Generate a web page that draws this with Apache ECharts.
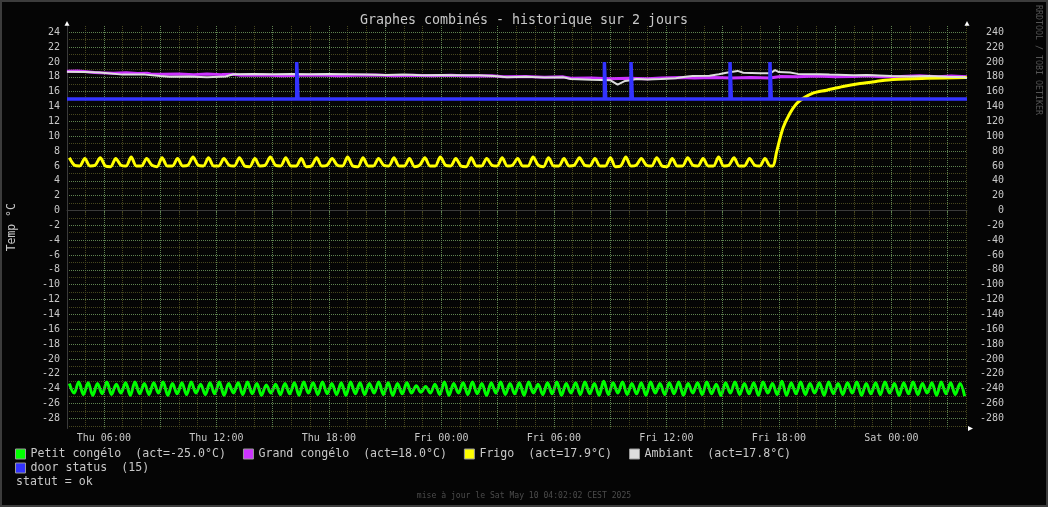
<!DOCTYPE html>
<html><head><meta charset="utf-8">
<script src="https://cdn.jsdelivr.net/npm/echarts@6/dist/echarts.min.js"></script>
<style>html,body{margin:0;padding:0;background:#050505;}#c{width:1048px;height:507px;}</style>
</head><body><div id="c"></div>
<script>
// ---- time range (hours since Thu 00:00) ----
const startHour = 4.0339;   // Thu 04:02:02
const endHour = 52.0339;    // Sat 04:02:02

// ---- tick labels ----
const xLabelHours = [6, 12, 18, 24, 30, 36, 42, 48];
const xTickLabels = ['Thu 06:00', 'Thu 12:00', 'Thu 18:00', 'Fri 00:00', 'Fri 06:00', 'Fri 12:00', 'Fri 18:00', 'Sat 00:00'];
const yTickLabels = [-28, -26, -24, -22, -20, -18, -16, -14, -12, -10, -8, -6, -4, -2, 0, 2, 4, 6, 8, 10, 12, 14, 16, 18, 20, 22, 24];
const yRightLabels = [-280, -260, -240, -220, -200, -180, -160, -140, -120, -100, -80, -60, -40, -20, 0, 20, 40, 60, 80, 100, 120, 140, 160, 180, 200, 220, 240];

// ---- Petit congélo : samples every 0.25 h from 4.16 h ----
const petitStart = 4.16, petitStep = 0.25;
const petitValues = [
-23.3,-24.6,-23.1,-24.8,-23.2,-24.9,-23.3,-24.7,-23.1,-24.8,
-23.4,-24.6,-23.2,-24.9,-23.1,-24.7,-23.3,-24.8,-23.2,-24.6,
-23.1,-24.9,-23.3,-24.7,-23.2,-24.8,-23.1,-24.6,-23.4,-24.8,
-23.2,-24.7,-23.1,-24.9,-23.3,-24.6,-23.2,-24.8,-23.1,-24.7,
-23.3,-24.9,-23.5,-24.6,-23.4,-24.8,-23.3,-24.7,-23.2,-24.9,
-23.1,-24.6,-23.2,-24.8,-23.1,-24.7,-23.3,-24.8,-23.2,-24.9,
-23.1,-24.7,-23.2,-24.8,-23.3,-24.6,-23.1,-24.8,-23.2,-24.9,
-23.3,-24.7,-23.2,-24.6,-23.6,-24.5,-23.7,-24.6,-23.4,-24.8,
-23.1,-24.9,-23.3,-24.6,-23.2,-24.8,-23.1,-24.7,-23.3,-24.9,
-23.2,-24.6,-23.1,-24.8,-23.3,-24.7,-23.2,-24.9,-23.1,-24.6,
-23.4,-24.8,-23.2,-24.7,-23.1,-24.9,-23.3,-24.6,-23.2,-24.8,
-23.1,-24.7,-23.3,-24.9,-23.0,-24.8,-23.2,-24.6,-23.1,-24.8,
-23.3,-24.7,-23.2,-24.9,-23.1,-24.6,-23.3,-24.8,-23.2,-24.7,
-23.1,-24.9,-23.3,-24.6,-23.2,-24.8,-23.1,-24.7,-23.4,-24.9,
-23.2,-24.6,-23.1,-24.8,-23.3,-24.7,-23.2,-24.9,-23.1,-24.6,
-23.3,-24.8,-23.0,-24.9,-23.2,-24.7,-23.1,-24.8,-23.3,-24.6,
-23.2,-24.9,-23.1,-24.7,-23.3,-24.8,-23.2,-24.6,-23.1,-24.9,
-23.3,-24.7,-23.2,-24.8,-23.1,-24.6,-23.3,-24.9,-23.2,-24.7,
-23.1,-24.8,-23.3,-24.6,-23.2,-24.9,-23.1,-24.7,-23.2,-24.8,
-23.3,-25.0
];

// ---- Frigo : oscillation samples every 0.2748 h from 4.16 h, then the rise ----
const frigoStart = 4.16, frigoStep = 0.2748;
const frigoWave = [
7.1,6.1,6.0, 7.0,6.0,6.1, 7.1,6.0,5.9, 7.0,6.1,6.0, 7.2,6.0,6.0,
7.0,6.1,5.9, 7.1,6.0,6.0, 7.0,6.0,6.1, 7.2,6.1,6.0, 7.1,6.0,6.0,
7.0,6.1,6.0, 7.1,6.0,5.9, 7.0,6.0,6.1, 7.2,6.1,6.0, 7.1,6.0,6.0,
7.0,5.9,6.0, 7.1,6.0,6.1, 7.0,6.1,6.0, 7.2,6.0,5.9, 7.1,6.0,6.0,
7.0,6.1,6.0, 7.1,6.0,6.0, 7.0,5.9,6.1, 7.1,6.0,6.0, 7.2,6.1,6.0,
7.0,6.0,5.9, 7.1,6.0,6.0, 7.0,6.1,6.0, 7.1,6.0,6.1, 7.0,6.0,6.0,
7.2,6.1,5.9, 7.1,6.0,6.0, 7.0,6.0,6.1, 7.1,6.1,6.0, 7.0,6.0,6.0,
7.1,5.9,6.0, 7.2,6.0,6.1, 7.0,6.1,6.0, 7.1,6.0,5.9, 7.0,6.0,6.0,
7.1,6.1,6.0, 7.0,6.0,6.0, 7.2,6.0,6.1, 7.1,6.0,6.0, 7.0,6.1,6.0,
7.0,6.0
];
const frigoRise = [[41.69,6.0],[41.88,7.9],[42.22,11.1],[42.59,13.1],[42.95,14.4],[43.29,15.1],[43.82,15.8],[44.55,16.2],[45.42,16.7],[46.33,17.1],[47.23,17.4],[48.09,17.65],[49.9,17.8],[52.03,17.9]];

// ---- Grand congélo [hour, °C] ----
const grandPoints = [[4.03,18.75],[4.6,18.8],[5.1,18.7],[5.5,18.6],[5.8,18.55],[6.5,18.5],[7.2,18.55],[7.8,18.45],[8.3,18.5],[8.5,18.4],[9.2,18.35],[10.0,18.4],[10.8,18.3],[11.5,18.4],[12.3,18.3],[12.9,18.35],[13.3,18.2],[14.5,18.25],[15.5,18.15],[16.5,18.2],[17.5,18.25],[18.5,18.15],[19.5,18.2],[20.5,18.25],[21.5,18.15],[22.5,18.2],[23.5,18.15],[24.5,18.2],[25.5,18.1],[26.7,18.15],[27.3,18.0],[28.5,18.05],[29.5,17.95],[30.5,18.0],[30.9,17.8],[32.0,17.85],[33.0,17.75],[34.0,17.8],[35.0,17.75],[35.7,17.85],[36.7,17.9],[37.5,17.85],[38.5,17.9],[39.5,17.85],[40.5,17.9],[41.5,17.85],[42.1,18.05],[43.0,18.0],[44.0,18.1],[45.0,18.0],[46.0,18.05],[46.7,18.15],[47.5,18.0],[48.5,18.05],[49.5,18.15],[50.5,18.0],[51.2,18.1],[52.03,18.0]];

// ---- Ambiant [hour, °C] ----
const ambiantPoints = [[4.03,18.7],[5.0,18.65],[5.8,18.6],[5.9,18.35],[7.0,18.3],[8.2,18.3],[8.3,18.05],[9.0,18.1],[9.5,18.0],[10.5,18.05],[11.5,17.95],[12.5,18.05],[12.9,18.35],[14.0,18.4],[15.0,18.35],[16.0,18.4],[17.0,18.35],[18.0,18.4],[19.1,18.35],[20.0,18.3],[21.0,18.25],[22.0,18.3],[23.0,18.2],[24.0,18.25],[25.0,18.2],[26.0,18.2],[26.8,18.1],[27.5,17.95],[28.5,18.0],[29.5,17.9],[30.5,17.95],[30.9,17.7],[32.0,17.6],[33.0,17.55],[33.4,16.95],[33.8,17.45],[34.0,17.5],[34.4,17.7],[35.0,17.65],[35.7,17.7],[36.5,17.8],[37.0,18.0],[37.4,18.1],[38.3,18.15],[38.8,18.35],[39.2,18.55],[39.8,18.8],[40.1,18.55],[41.0,18.5],[41.55,18.5],[41.8,18.9],[42.0,18.65],[42.6,18.6],[43.0,18.4],[44.2,18.35],[44.7,18.3],[46.0,18.2],[46.7,18.25],[48.0,18.1],[49.0,18.05],[50.0,18.1],[51.0,18.0],[51.9,17.95],[52.03,17.8]];

// ---- door status ----
const doorClosed = 15, doorOpen = 20;
const doorEvents = [16.32, 32.73, 34.15, 39.43, 41.56];

// ---------------------------------------------------------------
const FONT = 'DejaVu Sans Mono';
const TXT = '#c8c8c8';
const MAJOR = '#5e8250', MINOR = '#46461e';
const GL = 67, GT = 26, GR = 967, GB = 428.5, W = 1048, H = 507;
const Y_MIN = -29.37, Y_MAX = 24.85;

const petitData = petitValues.map((v, i) => [petitStart + i * petitStep, v]);
const frigoData = frigoWave.map((v, i) => [frigoStart + i * frigoStep, v]).concat(frigoRise);
const doorHalf = 0.035;
const doorData = [[startHour, doorClosed]];
doorEvents.forEach(t => {
  doorData.push([t - doorHalf, doorClosed], [t - doorHalf, doorOpen], [t + doorHalf, doorOpen], [t + doorHalf, doorClosed]);
});
doorData.push([endHour, doorClosed]);

const lastOf = arr => { const l = arr[arr.length - 1]; return Array.isArray(l) ? l[1] : l; };
const legendText = {
  'Petit congélo': 'Petit congélo  (act=' + lastOf(petitValues).toFixed(1) + '°C)',
  'Grand congélo': 'Grand congélo  (act=' + lastOf(grandPoints).toFixed(1) + '°C)',
  'Frigo': 'Frigo  (act=' + lastOf(frigoData).toFixed(1) + '°C)',
  'Ambiant': 'Ambiant  (act=' + lastOf(ambiantPoints).toFixed(1) + '°C)',
  'door status': 'door status  (' + lastOf(doorData) + ')'
};

const majorX = [], minorX = [];
for (let h = Math.ceil(startHour); h <= Math.floor(endHour); h++) (h % 3 === 0 ? majorX : minorX).push(h);
const minorY = [];
for (let v = -29; v <= 24; v += 2) minorY.push(v);

const gridDash = [1, 1];

const chart = echarts.init(document.getElementById('c'), null, {renderer: 'canvas'});
const lineBase = {type: 'line', showSymbol: false, symbol: 'none', silent: true, animation: false, xAxisIndex: 0, yAxisIndex: 0};

chart.setOption({
  backgroundColor: '#050505',
  animation: false,
  textStyle: {fontFamily: FONT},
  title: {
    text: 'Graphes combinés - historique sur 2 jours', left: 'center', top: 9,
    textStyle: {color: TXT, fontFamily: FONT, fontSize: 13.3, fontWeight: 'normal'}
  },
  grid: {left: GL, top: GT, right: W - GR, bottom: H - GB, containLabel: false, outerBoundsMode: 'none'},
  xAxis: [
    {
      type: 'value', min: startHour, max: endHour, position: 'bottom',
      axisLine: {show: true, lineStyle: {color: '#3a3a3a', width: 1}},
      axisTick: {show: true, customValues: majorX, length: 3, lineStyle: {color: MAJOR}},
      axisLabel: {
        customValues: xLabelHours, color: TXT, fontFamily: FONT, fontSize: 10, margin: 5,
        formatter: v => xTickLabels[xLabelHours.indexOf(Math.round(v))]
      },
      splitLine: {show: true, lineStyle: {color: MAJOR, width: 1, type: gridDash}},
      z: 3
    },
    {
      type: 'value', min: startHour, max: endHour, position: 'bottom',
      axisLine: {show: false},
      axisTick: {show: true, customValues: minorX, length: 3, lineStyle: {color: MINOR}},
      axisLabel: {show: false},
      splitLine: {show: true, lineStyle: {color: MINOR, width: 1, type: gridDash}},
      z: 2
    }
  ],
  yAxis: [
    {
      type: 'value', min: Y_MIN, max: Y_MAX, position: 'left',
      name: 'Temp °C', nameLocation: 'middle', nameRotate: 90, nameGap: 49,
      nameTextStyle: {color: TXT, fontFamily: FONT, fontSize: 11.4},
      axisLine: {show: true, lineStyle: {color: '#3a3a3a', width: 1}},
      axisTick: {show: false, customValues: yTickLabels},
      axisLabel: {customValues: yTickLabels, color: TXT, fontFamily: FONT, fontSize: 10, margin: 7},
      splitLine: {show: true, lineStyle: {color: MAJOR, width: 1, type: gridDash}},
      z: 3
    },
    {
      type: 'value', min: Y_MIN, max: Y_MAX, position: 'left',
      axisLine: {show: false},
      axisTick: {show: false, customValues: minorY},
      axisLabel: {show: false},
      splitLine: {show: true, lineStyle: {color: MINOR, width: 1, type: gridDash}},
      z: 2
    },
    {
      type: 'value', min: Y_MIN * 10, max: Y_MAX * 10, position: 'right',
      axisLine: {show: false},
      axisTick: {show: false, customValues: yRightLabels},
      axisLabel: {customValues: yRightLabels, color: TXT, fontFamily: FONT, fontSize: 10, margin: 37, align: 'right'},
      splitLine: {show: false}
    }
  ],
  legend: [
    {
      data: ['Petit congélo', 'Grand congélo', 'Frigo', 'Ambiant'],
      left: 15, top: 448, padding: 0, itemGap: 17, itemWidth: 10, itemHeight: 10, icon: 'rect',
      selectedMode: false,
      itemStyle: {borderColor: '#9a9a9a', borderWidth: 1},
      textStyle: {color: TXT, fontFamily: FONT, fontSize: 11.6},
      formatter: n => legendText[n]
    },
    {
      data: ['door status'],
      left: 15, top: 462, padding: 0, itemGap: 17, itemWidth: 10, itemHeight: 10, icon: 'rect',
      selectedMode: false,
      itemStyle: {borderColor: '#9a9a9a', borderWidth: 1},
      textStyle: {color: TXT, fontFamily: FONT, fontSize: 11.6},
      formatter: n => legendText[n]
    }
  ],
  series: [
    Object.assign({}, lineBase, {name: 'Petit congélo', data: petitData, smooth: 0.35, color: '#00ff00',
      lineStyle: {width: 3, color: '#00ff00'}, itemStyle: {color: '#00ff00'}, z: 2}),
    Object.assign({}, lineBase, {name: 'Grand congélo', data: grandPoints, color: '#cc33ff',
      lineStyle: {width: 3, color: '#cc33ff'}, itemStyle: {color: '#cc33ff'}, z: 3}),
    Object.assign({}, lineBase, {name: 'Frigo', data: frigoData, smooth: 0.3, color: '#ffff00',
      lineStyle: {width: 3, color: '#ffff00'}, itemStyle: {color: '#ffff00'}, z: 4}),
    Object.assign({}, lineBase, {name: 'Ambiant', data: ambiantPoints, color: '#dddddd',
      lineStyle: {width: 2, color: '#dddddd'}, itemStyle: {color: '#dddddd'}, z: 5}),
    Object.assign({}, lineBase, {name: 'door status', data: doorData, color: '#3333ff',
      lineStyle: {width: 3.5, color: '#3333ff', cap: 'butt', join: 'miter'}, itemStyle: {color: '#3333ff'}, z: 6})
  ],
  graphic: [
    {type: 'rect', shape: {x: 1, y: 1, width: W - 2, height: H - 2}, style: {fill: 'none', stroke: '#3c3c3c', lineWidth: 2}, silent: true, z: 100},
    {type: 'polygon', shape: {points: [[GL - 2.5, GT - 0.3], [GL + 2.5, GT - 0.3], [GL, GT - 5]]}, style: {fill: '#ffffff'}, silent: true, z: 100},
    {type: 'polygon', shape: {points: [[GR - 2.5, GT - 0.3], [GR + 2.5, GT - 0.3], [GR, GT - 5]]}, style: {fill: '#ffffff'}, silent: true, z: 100},
    {type: 'polygon', shape: {points: [[GR + 1, GB - 2.5], [GR + 1, GB + 2.5], [GR + 6, GB]]}, style: {fill: '#ffffff'}, silent: true, z: 100},
    {type: 'text', x: 16, y: 482, style: {text: 'statut = ok', fill: TXT, font: '11.6px "DejaVu Sans Mono"', textAlign: 'left', textVerticalAlign: 'middle'}, silent: true},
    {type: 'text', x: W / 2, y: 496, style: {text: 'mise à jour le Sat May 10 04:02:02 CEST 2025', fill: '#4c4c4c', font: '8.1px "DejaVu Sans Mono"', textAlign: 'center', textVerticalAlign: 'middle'}, silent: true},
    {type: 'text', x: 1038, y: 5, rotation: -Math.PI / 2, style: {text: 'RRDTOOL / TOBI OETIKER', fill: '#555555', font: '8.3px "DejaVu Sans Mono"', textAlign: 'left', textVerticalAlign: 'middle'}, silent: true}
  ]
});
</script></body></html>
